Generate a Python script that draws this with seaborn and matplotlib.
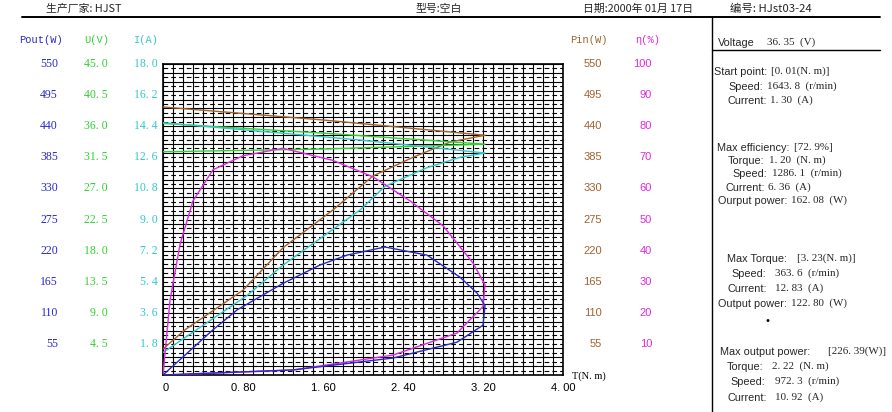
import numpy as np
import pandas as pd
import matplotlib
matplotlib.use("Agg")
import matplotlib.pyplot as plt
import seaborn as sns

# ---------------- data ----------------
# torque axis
t_ticks = [0, 0.80, 1.60, 2.40, 3.20, 4.00]
pout_ticks = [550, 495, 440, 385, 330, 275, 220, 165, 110, 55]
u_ticks = [45.0, 40.5, 36.0, 31.5, 27.0, 22.5, 18.0, 13.5, 9.0, 4.5]
i_ticks = [18.0, 16.2, 14.4, 12.6, 10.8, 9.0, 7.2, 5.4, 3.6, 1.8]
pin_ticks = [550, 495, 440, 385, 330, 275, 220, 165, 110, 55]
eta_ticks = [100, 90, 80, 70, 60, 50, 40, 30, 20, 10]

# efficiency (%) loop
eff_T = [0, 0.07, 0.17, 0.30, 0.50, 0.80, 1.20, 1.70, 2.10, 2.47, 2.80, 3.10, 3.22, 3.20, 2.94, 2.30, 1.30, 0]
eff_v = [0, 24, 42, 56, 66, 70.5, 72.9, 69, 63.7, 56, 48, 36, 29, 22, 13.5, 6.4, 1.6, 0]
# output power (W) loop
pout_T = [0, 0.50, 0.74, 1.20, 1.57, 1.84, 2.22, 2.64, 2.97, 3.14, 3.22, 3.20, 2.94, 2.30, 1.30, 0]
pout_v = [0, 80, 115, 162, 194.5, 212, 226.4, 212, 173, 145, 122.8, 88, 58, 30, 9, 0]
# input power (W) loop
pin_T = [0, 0.22, 0.80, 1.20, 1.70, 2.10, 2.50, 2.87, 3.22, 1.60, 0]
pin_v = [46, 80, 150, 225, 292, 352, 385, 412, 424, 451, 474]
# current (A) loop
cur_T = [0, 0.84, 1.20, 1.97, 2.22, 2.64, 2.97, 3.22, 1.97, 0]
cur_v = [1.30, 4.6, 6.36, 9.55, 10.92, 12.0, 12.6, 12.85, 13.6, 14.6]
# voltage (V) loop
vol_T = [0, 1.60, 3.22, 1.60, 0]
vol_v = [36.4, 35.0, 33.4, 32.7, 32.3]

# right panel text
panel_labels = ["Voltage", "Start point:", "Speed:", "Current:", "Max efficiency:", "Torque:",
                "Speed:", "Current:", "Ourput power:", "Max Torque:", "Speed:", "Current:",
                "Output power:", "Max output power:", "Torque:", "Speed:", "Current:"]
panel_values = ["36. 35  (V)", "[0. 01(N. m)]", "1643. 8  (r/min)", "1. 30  (A)", "[72. 9%]",
                "1. 20  (N. m)", "1286. 1  (r/min)", "6. 36  (A)", "162. 08  (W)", "[3. 23(N. m)]",
                "363. 6  (r/min)", "12. 83  (A)", "122. 80  (W)", "[226. 39(W)]", "2. 22  (N. m)",
                "972. 3  (r/min)", "10. 92  (A)"]

# scale factors to the common 0..550 plotting frame
scale = {"Pout": 1.0, "Pin": 1.0, "U": 550 / 45.0, "I": 550 / 18.0, "eta": 5.5}
colors = {"Pout": "#2828c8", "U": "#30d030", "I": "#30c8c8", "Pin": "#a0622d", "eta": "#e028e0"}

frames = []
for name, T_, v in [("Pin", pin_T, pin_v), ("U", vol_T, vol_v), ("I", cur_T, cur_v),
                    ("eta", eff_T, eff_v), ("Pout", pout_T, pout_v)]:
    frames.append(pd.DataFrame({"T": T_, "y": np.array(v) * scale[name], "series": name}))
df = pd.concat(frames, ignore_index=True)

# ---------------- figure ----------------
sns.set_theme(style="white")
plt.rcParams['font.family'] = ['Noto Sans CJK SC', 'DejaVu Sans']
W, H = 892, 412
fig = plt.figure(figsize=(W / 100, H / 100), dpi=100)

def fx(x):
    return x / W

def fy(y):
    return 1 - y / H

x0, x1, y0, y1 = 163, 563, 64, 375
ax = fig.add_axes([fx(x0), fy(y1), (x1 - x0) / W, (y1 - y0) / H])
ax.set_xlim(0, 4.0)
ax.set_ylim(0, 550)

# grid
lw = 0.8
for k in range(41):
    ax.axvline(k * 0.1, color="black", lw=lw, zorder=1)
nrow = 35
step = 550 / nrow
for k in range(nrow + 1):
    ax.axhline(k * step, color="black", lw=lw, zorder=1)
for k in range(nrow):
    ax.plot([0, 4.0], [(k + 0.5) * step] * 2, color="black", lw=lw, zorder=1,
            dashes=(4.2, 2.8), dash_capstyle="butt")
for s in ax.spines.values():
    s.set_visible(True)
    s.set_color("black")
    s.set_linewidth(1.2)

sns.lineplot(data=df, x="T", y="y", hue="series", sort=False, estimator=None,
             palette=colors, lw=1.0, ax=ax, legend=False, zorder=3)
ax.set_xticks([])
ax.set_yticks([])
ax.set_xlabel("")
ax.set_ylabel("")

mono = "Liberation Mono"
serif = "Liberation Serif"
sans = "Liberation Sans"

def T(x, y, s, fs=8, **kw):
    kw.setdefault("va", "center")
    return fig.text(fx(x), fy(y), s, fontsize=fs, **kw)

# axis headers
T(41, 40, "Pout(W)", color=colors["Pout"], ha="center", family=mono, fs=7.5)
T(97, 40, "U(V)", color=colors["U"], ha="center", family=mono, fs=7.5)
T(146, 40, "I(A)", color=colors["I"], ha="center", family=mono, fs=7.5)
T(589, 40, "Pin(W)", color=colors["Pin"], ha="center", family=mono, fs=7.5)
T(648, 40, "η(%)", color=colors["eta"], ha="center", family=[mono, "DejaVu Sans"], fs=7.5)

for k in range(10):
    yy = 375 - pout_ticks[k] * (311 / 550)
    T(58, yy, f"{pout_ticks[k]}", color=colors["Pout"], ha="right", family=serif, fs=8.5)
    T(108, yy, f"{u_ticks[k]:.1f}".replace(".", ". "), color=colors["U"], ha="right", family=serif, fs=8.5)
    T(158, yy, f"{i_ticks[k]:.1f}".replace(".", ". "), color=colors["I"], ha="right", family=serif, fs=8.5)
    T(602, yy, f"{pin_ticks[k]}", color=colors["Pin"], ha="right", family=sans, fs=8)
    T(652, yy, f"{eta_ticks[k]}", color=colors["eta"], ha="right", family=sans, fs=8)

# x tick labels
for t in t_ticks:
    lab = "0" if t == 0 else f"{t:.2f}".replace(".", ". ")
    T(x0 + t * 100 + (3 if t == 0 else 0), 388, lab, color="black", ha="center", family=sans, fs=8)
T(572, 376, "T(N. m)", color="black", ha="left", family=serif, fs=7.5)

# header
T(46, 9, "生产厂家: HJST", ha="left", fs=7.8)
T(415, 9, "型号:空白", ha="left", fs=7.8)
T(583, 9, "日期:2000年 01月 17日", ha="left", fs=7.8)
T(730, 9, "编号: HJst03-24", ha="left", fs=8.2)
fig.add_artist(plt.Line2D([fx(22), fx(880)], [fy(17), fy(17)], color="black", lw=1.4,
                          transform=fig.transFigure))
fig.add_artist(plt.Line2D([fx(712), fx(712)], [fy(17), fy(412)], color="black", lw=1.0,
                          transform=fig.transFigure))
fig.add_artist(plt.Line2D([fx(712), fx(880)], [fy(50), fy(50)], color="black", lw=1.0,
                          transform=fig.transFigure))

# right panel positions: (label x, value x, y)
panel_pos = [(718, 767, 43), (714, 758, 72), (728, 767, 87), (727, 767, 101),
             (717, 792, 148), (728, 768, 161), (732, 772, 174), (725, 766, 188),
             (718, 773, 201), (727, 797, 259), (731, 775, 274), (727, 775, 289),
             (718, 783, 304), (720, 828, 352), (727, 772, 367), (730, 775, 382),
             (727, 775, 398)]
renderer = fig.canvas.get_renderer()
for (lx, vx, yy), lab, val in zip(panel_pos, panel_labels, panel_values):
    t = T(lx, yy, lab, ha="left", family=sans, fs=7.8)
    bb = t.get_window_extent(renderer=renderer)
    end = bb.x1  # pixels from left
    T(max(vx, end + 4), yy - 1, val, ha="left", family=serif, fs=7.9)
fig.text(fx(768), fy(322), "•", fontsize=10, ha="center", va="center", color="black")

fig.savefig("out.png", dpi=100)
